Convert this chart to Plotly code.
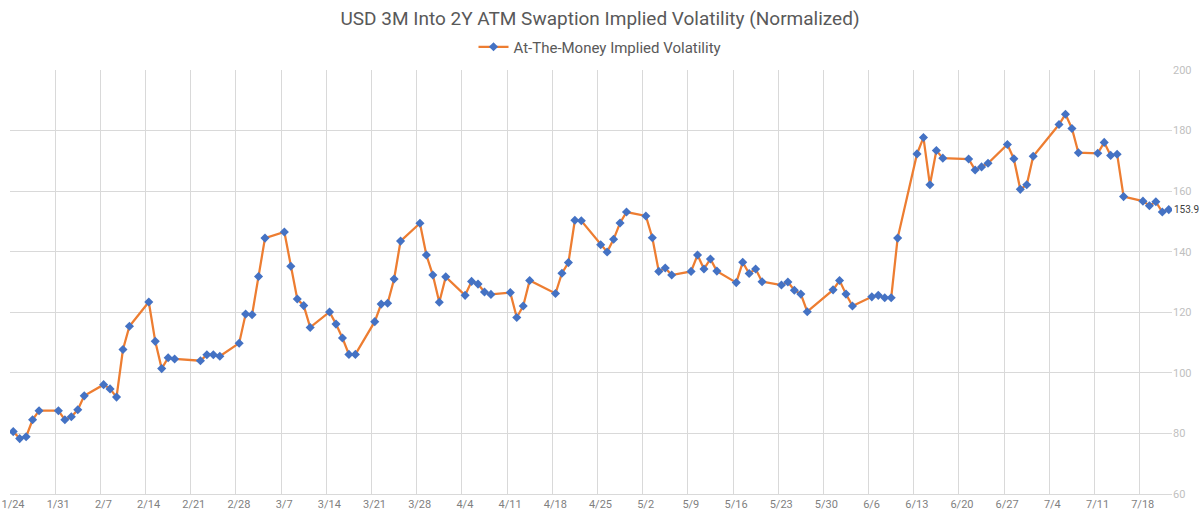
import pandas as pd
import plotly.graph_objects as go

# Trading dates (2022) and normalized ATM implied volatility values
dates = [
    "2022-01-24", "2022-01-25", "2022-01-26", "2022-01-27", "2022-01-28",
    "2022-01-31", "2022-02-01", "2022-02-02", "2022-02-03", "2022-02-04",
    "2022-02-07", "2022-02-08", "2022-02-09", "2022-02-10", "2022-02-11",
    "2022-02-14", "2022-02-15", "2022-02-16", "2022-02-17", "2022-02-18",
    "2022-02-22", "2022-02-23", "2022-02-24", "2022-02-25",
    "2022-02-28", "2022-03-01", "2022-03-02", "2022-03-03", "2022-03-04",
    "2022-03-07", "2022-03-08", "2022-03-09", "2022-03-10", "2022-03-11",
    "2022-03-14", "2022-03-15", "2022-03-16", "2022-03-17", "2022-03-18",
    "2022-03-21", "2022-03-22", "2022-03-23", "2022-03-24", "2022-03-25",
    "2022-03-28", "2022-03-29", "2022-03-30", "2022-03-31", "2022-04-01",
    "2022-04-04", "2022-04-05", "2022-04-06", "2022-04-07", "2022-04-08",
    "2022-04-11", "2022-04-12", "2022-04-13", "2022-04-14",
    "2022-04-18", "2022-04-19", "2022-04-20", "2022-04-21", "2022-04-22",
    "2022-04-25", "2022-04-26", "2022-04-27", "2022-04-28", "2022-04-29",
    "2022-05-02", "2022-05-03", "2022-05-04", "2022-05-05", "2022-05-06",
    "2022-05-09", "2022-05-10", "2022-05-11", "2022-05-12", "2022-05-13",
    "2022-05-16", "2022-05-17", "2022-05-18", "2022-05-19", "2022-05-20",
    "2022-05-23", "2022-05-24", "2022-05-25", "2022-05-26", "2022-05-27",
    "2022-05-31", "2022-06-01", "2022-06-02", "2022-06-03",
    "2022-06-06", "2022-06-07", "2022-06-08", "2022-06-09", "2022-06-10",
    "2022-06-13", "2022-06-14", "2022-06-15", "2022-06-16", "2022-06-17",
    "2022-06-21", "2022-06-22", "2022-06-23", "2022-06-24",
    "2022-06-27", "2022-06-28", "2022-06-29", "2022-06-30", "2022-07-01",
    "2022-07-05", "2022-07-06", "2022-07-07", "2022-07-08",
    "2022-07-11", "2022-07-12", "2022-07-13", "2022-07-14", "2022-07-15",
    "2022-07-18", "2022-07-19", "2022-07-20", "2022-07-21", "2022-07-22",
]

values = [
    80.6, 78.3, 78.9, 84.5, 87.5,
    87.5, 84.5, 85.5, 87.8, 92.4,
    96.1, 94.7, 92.0, 107.7, 115.4,
    123.4, 110.4, 101.4, 105.0, 104.6,
    104.0, 106.0, 106.0, 105.5,
    109.8, 119.4, 119.2, 131.8, 144.5,
    146.5, 135.2, 124.4, 122.2, 115.0,
    120.1, 116.1, 111.5, 106.1, 106.1,
    116.9, 122.7, 123.0, 131.0, 143.5,
    149.4, 138.9, 132.3, 123.3, 131.7,
    125.6, 130.2, 129.3, 126.7, 125.9,
    126.5, 118.3, 122.1, 130.5,
    126.2, 132.9, 136.4, 150.4, 150.2,
    142.3, 139.9, 144.1, 149.5, 153.1,
    151.8, 144.6, 133.5, 134.6, 132.3,
    133.5, 138.9, 134.3, 137.6, 133.6,
    129.8, 136.5, 132.8, 134.3, 130.1,
    129.0, 130.0, 127.3, 126.0, 120.2,
    127.4, 130.5, 126.0, 122.1,
    125.1, 125.6, 124.8, 124.8, 144.5,
    172.3, 177.7, 162.1, 173.4, 170.9,
    170.6, 167.0, 168.0, 169.2,
    175.4, 170.7, 160.6, 162.1, 171.5,
    182.0, 185.4, 180.7, 172.7,
    172.5, 176.1, 171.8, 172.2, 158.2,
    156.7, 155.2, 156.5, 153.1, 153.9,
]

series_name = "At-The-Money Implied Volatility"
title_text = "USD 3M Into 2Y ATM Swaption Implied Volatility (Normalized)"
y_ticks = [60, 80, 100, 120, 140, 160, 180, 200]

# Excel-style date axis: each day occupies a slot, points sit mid-slot
x = pd.to_datetime(dates) + pd.Timedelta(hours=12)

FONT = "Roboto"
WEEK_MS = 7 * 24 * 3600 * 1000

fig = go.Figure()
fig.add_trace(go.Scatter(
    x=x, y=values, mode="lines+markers", name=series_name,
    line=dict(color="#ED7D31", width=2.25),
    marker=dict(symbol="diamond", size=7, color="#4472C4"),
))

fig.add_annotation(
    x=x[-1], y=values[-1], text=f"{values[-1]:.1f}",
    showarrow=False, xanchor="left", yanchor="middle", xshift=3,
    font=dict(family=FONT, size=10, color="#404040"),
)

fig.update_layout(
    width=1200, height=517,
    margin=dict(l=10, r=28, t=70, b=23, autoexpand=False),
    paper_bgcolor="white", plot_bgcolor="white",
    font=dict(family=FONT),
    title=dict(
        text=title_text, x=0.5, xanchor="center", xref="container",
        y=1 - 18 / 517, yanchor="middle", yref="container",
        font=dict(family=FONT, size=19, color="#595959"),
    ),
    showlegend=True,
    legend=dict(
        orientation="h", x=0.5, xanchor="center", xref="container",
        y=1 - 47 / 517, yanchor="middle", yref="container",
        font=dict(family=FONT, size=15, color="#595959"),
        bgcolor="rgba(0,0,0,0)",
    ),
    xaxis=dict(
        type="date", automargin=False,
        range=["2022-01-24", "2022-07-23"],
        tickmode="linear", tick0="2022-01-24", dtick=WEEK_MS,
        tickformat="%-m/%-d",
        showgrid=True, gridcolor="#d9d9d9", gridwidth=1,
        showline=True, linecolor="#d9d9d9", linewidth=1,
        ticks="", ticklabelshift=3,
        tickfont=dict(family=FONT, size=11, color="#7f7f7f"),
        zeroline=False,
    ),
    yaxis=dict(
        side="right", range=[60, 200], automargin=False,
        tickmode="array", tickvals=y_ticks,
        showgrid=True, gridcolor="#d9d9d9", gridwidth=1,
        showline=False, ticks="", zeroline=False,
        tickfont=dict(family=FONT, size=11, color="#bfbfbf"),
    ),
)

fig.write_html("out.html")
